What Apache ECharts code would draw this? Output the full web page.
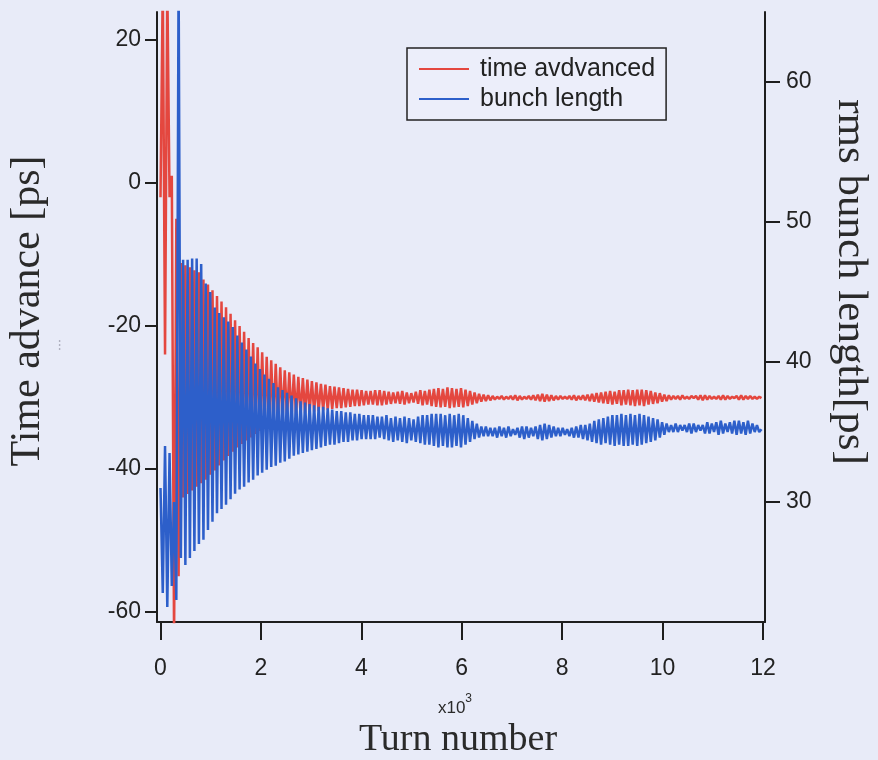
<!DOCTYPE html>
<html>
<head>
<meta charset="utf-8">
<script src="https://cdn.jsdelivr.net/npm/echarts@6/dist/echarts.min.js"></script>
<style>
html,body{margin:0;padding:0;background:#e8ebf8;}
#c{width:878px;height:760px;}
</style>
</head>
<body>
<div id="c"></div>
<script>
// Samples every 45 turns (x in units of 10^3 turns)
const TURN_STEP = 45;
const xTicks = [0, 2, 4, 6, 8, 10, 12];
const leftTicks = [-60, -40, -20, 0, 20];
const rightTicks = [30, 40, 50, 60];
const seriesNames = ['time avdvanced', 'bunch length'];

// time advance [ps] (left axis)
const timeAdvance = [
-2,28,-24,28,-2,1,-64,-5,-55,-11.2,-44,-11.5,-43.5,-11.8,-43,-12.2,-42.5,-12.5,-42,-13.5,
-41.5,-14.2,-40.8,-15,-40.2,-15.8,-39.5,-16.6,-38.8,-17.4,-38.2,-18.3,-37.6,-19.2,-37,-20,-36.5,-20.8,-36,-21.7,
-35.6,-22.4,-35.1,-23,-34.7,-23.7,-34.3,-24.3,-34,-24.8,-33.7,-25.3,-33.4,-25.8,-33.1,-26.2,-32.9,-26.5,-32.7,-26.8,
-32.5,-27.1,-32.4,-27.3,-32.2,-27.5,-32.1,-27.7,-32,-27.9,-31.9,-28.1,-31.8,-28.2,-31.7,-28.4,-31.6,-28.5,-31.5,-28.6,
-31.5,-28.7,-31.4,-28.8,-31.3,-28.9,-31.2,-28.9,-31.2,-29.0,-31.1,-29.1,-31.0,-29.1,-31.0,-29.0,-31.1,-29.0,-31.1,-29.1,
-31.0,-29.2,-30.9,-29.3,-30.8,-29.2,-30.9,-29.1,-31.0,-29.3,-30.8,-29.4,-30.7,-29.2,-30.9,-29.0,-31.1,-29.1,-31.0,-28.9,
-31.2,-28.8,-31.3,-28.7,-31.4,-28.8,-31.3,-28.6,-31.5,-28.7,-31.4,-28.8,-31.3,-28.7,-31.4,-28.9,-31.2,-29.1,-31.0,-29.3,
-30.8,-29.5,-30.6,-29.6,-30.5,-29.7,-30.4,-29.8,-30.3,-29.9,-30.2,-29.8,-30.3,-29.9,-30.2,-29.8,-30.3,-29.7,-30.4,-29.8,
-30.3,-29.9,-30.2,-29.8,-30.3,-29.7,-30.4,-29.6,-30.5,-29.5,-30.6,-29.6,-30.5,-29.7,-30.4,-29.8,-30.3,-29.8,-30.2,-29.9,
-30.2,-29.8,-30.3,-29.7,-30.4,-29.8,-30.3,-29.7,-30.4,-29.6,-30.5,-29.5,-30.6,-29.4,-30.7,-29.3,-30.8,-29.2,-30.9,-29.1,
-31.0,-29.2,-30.9,-29.0,-31.1,-29.0,-31.0,-28.9,-31.1,-29.0,-31.2,-28.9,-31.1,-28.9,-31.2,-29.0,-31.0,-29.1,-30.9,-29.3,
-30.8,-29.4,-30.6,-29.6,-30.5,-29.7,-30.3,-29.8,-30.2,-29.8,-30.3,-29.7,-30.2,-29.9,-30.2,-29.8,-30.1,-29.8,-30.3,-29.7,
-30.4,-29.7,-30.3,-29.8,-30.2,-29.9,-30.2,-29.8,-30.3,-29.7,-30.3,-29.8,-30.2,-29.9,-30.1,-29.8,-30.3,-29.7,-30.3,-29.8,
-30.2,-29.8,-30.2,-29.9,-30.2,-29.9,-30.1
];

// rms bunch length [ps] (right axis)
const bunchLength = [
31,23.5,34,22.5,33.5,24,30,23,68,26,47.3,25.5,47.3,26,47.4,26.5,47.4,27,47,27.3,
45.6,28,45,28.6,43.9,29.2,43.5,29.5,43.2,29.8,42.9,30.2,42.5,30.6,41.9,30.9,41.4,31.1,40.9,31.4,
40.4,31.6,39.9,31.9,39.5,32.1,39.1,32.3,38.8,32.5,38.5,32.6,38.2,32.8,38.0,32.9,37.8,33.1,37.6,33.3,
37.4,33.4,37.2,33.5,37.1,33.6,37.0,33.7,36.9,33.8,36.8,33.9,36.8,34.0,36.7,34.1,36.6,34.1,36.5,34.2,
36.5,34.3,36.4,34.3,36.4,34.4,36.3,34.4,36.3,34.5,36.2,34.5,36.2,34.5,36.2,34.5,36.1,34.6,36.1,34.5,
36.2,34.4,36.0,34.3,36.1,34.4,36.0,34.3,36.1,34.2,36.0,34.4,35.9,34.3,36.1,34.2,36.2,34.1,36.2,34.1,
36.3,34.0,36.3,33.9,36.3,34.0,36.2,33.9,36.3,33.9,36.2,34.0,36.3,33.9,36.2,34.1,36.0,34.3,35.8,34.5,
35.6,34.6,35.4,34.7,35.4,34.7,35.3,34.7,35.3,34.6,35.4,34.7,35.3,34.6,35.4,34.7,35.2,34.8,35.3,34.6,
35.4,34.5,35.4,34.6,35.3,34.7,35.4,34.5,35.5,34.4,35.6,34.5,35.5,34.6,35.4,34.7,35.3,34.7,35.3,34.8,
35.2,34.7,35.3,34.6,35.4,34.6,35.5,34.5,35.5,34.4,35.6,34.3,35.8,34.2,35.9,34.1,36.0,34.2,36.1,34.1,
36.2,34.0,36.2,34.1,36.3,34.0,36.2,34.0,36.3,34.1,36.2,34.0,36.3,34.1,36.2,34.2,36.1,34.3,36.0,34.4,
35.9,34.6,35.7,34.8,35.6,35.0,35.5,35.0,35.6,35.0,35.5,35.1,35.5,35.0,35.6,34.9,35.6,35.0,35.5,35.1,
35.5,34.9,35.7,34.9,35.6,35.0,35.7,34.8,35.8,34.9,35.6,35.0,35.7,34.9,35.8,34.8,35.8,34.9,35.7,34.8,
35.8,34.9,35.6,35.0,35.5,35.0,35.2
];

const toPairs = arr => arr.map((v, i) => [i * TURN_STEP / 1000, v]);

const chart = echarts.init(document.getElementById('c'), null, {renderer: 'canvas'});
const axisColor = '#1e1e1e';
const labelStyle = {color: '#222', fontFamily: '"Liberation Sans", Arial, sans-serif', fontSize: 23};

chart.setOption({
  backgroundColor: '#e8ebf8',
  animation: false,
  grid: {left: 157, right: 113, top: 12, bottom: 138},
  legend: {
    left: 407, top: 48, orient: 'vertical',
    data: seriesNames,
    icon: 'rect', itemWidth: 50, itemHeight: 2, itemGap: 4,
    padding: [8, 11, 8, 12],
    borderColor: '#222', borderWidth: 1.5, backgroundColor: '#eceefa',
    textStyle: {color: '#222', fontFamily: '"Liberation Sans", Arial, sans-serif', fontSize: 25, lineHeight: 26, padding: [0, 0, 0, 6]}
  },
  xAxis: {
    type: 'value', min: -0.07, max: 12.04,
    axisLine: {show: true, onZero: false, lineStyle: {color: axisColor, width: 2}},
    axisTick: {show: true, length: 18, lineStyle: {color: axisColor, width: 2}, customValues: xTicks},
    axisLabel: Object.assign({margin: 35, customValues: xTicks}, labelStyle),
    splitLine: {show: false}
  },
  yAxis: [
    {
      type: 'value', position: 'left', min: -61.4, max: 23.9,
      axisLine: {show: true, onZero: false, lineStyle: {color: axisColor, width: 2}},
      axisTick: {show: true, length: 12, lineStyle: {color: axisColor, width: 2}, customValues: leftTicks},
      axisLabel: Object.assign({margin: 16, customValues: leftTicks}, labelStyle),
      splitLine: {show: false}
    },
    {
      type: 'value', position: 'right', min: 21.43, max: 65,
      axisLine: {show: true, onZero: false, lineStyle: {color: axisColor, width: 2}},
      axisTick: {show: true, length: 15, lineStyle: {color: axisColor, width: 2}, customValues: rightTicks},
      axisLabel: Object.assign({margin: 21, customValues: rightTicks}, labelStyle),
      splitLine: {show: false}
    }
  ],
  graphic: [
    {type: 'text', x: 28, y: 311, rotation: Math.PI / 2,
      style: {text: 'Time advance [ps]', font: '42px "Liberation Serif", "Times New Roman", serif', fill: '#2a2a2a', align: 'center', verticalAlign: 'middle'}},
    {type: 'text', x: 60, y: 345, rotation: Math.PI / 2,
      style: {text: '···', font: '12px "Liberation Sans", sans-serif', fill: '#8a8a9a', align: 'center', verticalAlign: 'middle'}},
    {type: 'text', x: 850, y: 282, rotation: -Math.PI / 2,
      style: {text: 'rms bunch length[ps]', font: '43px "Liberation Serif", "Times New Roman", serif', fill: '#2a2a2a', align: 'center', verticalAlign: 'middle'}},
    {type: 'text', x: 455, y: 705,
      style: {text: '{a|x10}{b|3}', align: 'center', verticalAlign: 'middle', fill: '#2a2a2a',
        rich: {a: {fontSize: 17, fontFamily: '"Liberation Sans", Arial, sans-serif', fill: '#2a2a2a', verticalAlign: 'bottom'},
               b: {fontSize: 12, fontFamily: '"Liberation Sans", Arial, sans-serif', fill: '#2a2a2a', verticalAlign: 'top', padding: [0, 0, 12, 0]}}}},
    {type: 'text', x: 458, y: 740,
      style: {text: 'Turn number', font: '38px "Liberation Serif", "Times New Roman", serif', fill: '#2a2a2a', align: 'center', verticalAlign: 'middle'}}
  ],
  series: [
    {name: seriesNames[0], type: 'line', yAxisIndex: 0, data: toPairs(timeAdvance), showSymbol: false, symbol: 'none',
      clip: true, lineStyle: {color: '#e4473f', width: 2.5}, itemStyle: {color: '#e4473f'}},
    {name: seriesNames[1], type: 'line', yAxisIndex: 1, data: toPairs(bunchLength), showSymbol: false, symbol: 'none',
      clip: true, lineStyle: {color: '#2d5fca', width: 2.5}, itemStyle: {color: '#2d5fca'}}
  ]
});
</script>
</body>
</html>
